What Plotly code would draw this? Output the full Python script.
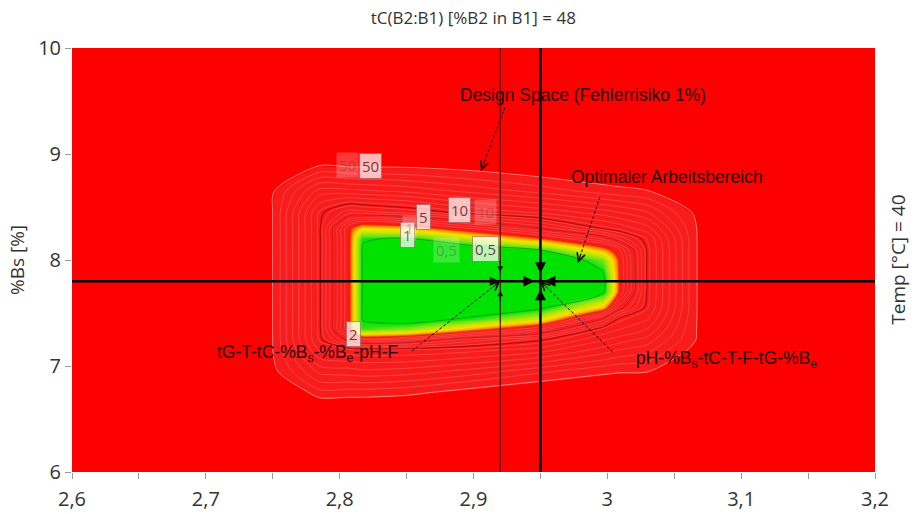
import numpy as np
import plotly.graph_objects as go

# ---------------- data ----------------
# x factor (horizontal axis) and %Bs grid on which the failure risk was evaluated
x_nodes = [2.70, 2.749, 2.785, 2.807, 2.817, 2.85, 2.90, 2.95, 2.997, 3.009, 3.030, 3.068, 3.10]
bs_nodes = [6.50, 6.75, 6.95, 7.15, 7.25, 7.35, 7.45, 7.55, 7.70, 7.85, 8.00,
            8.10, 8.20, 8.30, 8.45, 8.65, 8.90, 9.10]

# probability of failure [%]; one row per %Bs node, one column per x node
risk_pct = [
    [100, 100, 100, 100, 100, 100, 100, 100, 100, 100, 100, 100, 100],        # 6.50
    [100, 90, 42, 43, 43, 46, 58, 70, 80, 85, 90, 100, 100],                  # 6.75
    [100, 56, 24, 23, 22, 23, 28, 37, 46, 48, 49, 90, 100],                   # 6.95
    [100, 52, 13.4, 12, 11.7, 11.7, 13, 15.5, 23, 26, 29.5, 58, 100],         # 7.15
    [100, 52, 10.8, 4.5, 3.2, 3.6, 6.6, 9.6, 16.5, 18.6, 22.6, 52, 100],      # 7.25
    [100, 52, 10.5, 2.1, 0.58, 0.74, 1.6, 3.2, 11.7, 13.6, 17, 52, 100],      # 7.35
    [100, 52, 10.5, 2.1, 0.48, 0.35, 0.55, 1.05, 5.1, 10.4, 13.3, 52, 100],   # 7.45
    [100, 52, 10.5, 2.1, 0.48, 0.25, 0.3, 0.45, 1.55, 4.5, 11, 52, 100],      # 7.55
    [100, 52, 10.5, 2.1, 0.48, 0.2, 0.15, 0.2, 0.45, 2.1, 10.5, 52, 100],     # 7.70
    [100, 52, 10.5, 2.1, 0.48, 0.2, 0.12, 0.15, 0.45, 2.05, 10.5, 52, 100],   # 7.85
    [100, 52, 10.5, 2.1, 0.48, 0.22, 0.2, 0.25, 0.7, 2.1, 10.5, 52, 100],     # 8.00
    [100, 52, 10.5, 2.1, 0.48, 0.3, 0.35, 0.52, 1.55, 2.6, 10.5, 52, 100],    # 8.10
    [100, 52, 10.5, 2.1, 0.52, 0.47, 0.95, 1.8, 4.1, 6.3, 11.4, 52, 100],     # 8.20
    [100, 52, 10.5, 2.1, 1.3, 1.5, 2.8, 5.2, 10.5, 12, 15.7, 52, 100],        # 8.30
    [100, 52, 10.8, 6.5, 6.9, 8, 11.5, 14.5, 19, 21, 25.5, 55, 100],          # 8.45
    [100, 53, 19, 19.5, 20, 22, 27.5, 34, 43, 45, 49, 85, 100],               # 8.65
    [100, 100, 52, 55, 55, 55, 60, 70, 80, 85, 90, 100, 100],                 # 8.90
    [100, 100, 100, 100, 100, 100, 100, 100, 100, 100, 100, 100, 100],        # 9.10
]

# labelled iso-risk levels [%] and their printed labels
risk_levels = [0.5, 1, 2, 5, 10, 50]
risk_level_text = ["0,5", "1", "2", "5", "10", "50"]

# set point of the cross-section
x_design_space = 2.92
x_optimum = 2.95
bs_setpoint = 7.8

x_ticks = [2.6, 2.7, 2.8, 2.9, 3.0, 3.1, 3.2]
y_ticks = [6, 7, 8, 9, 10]

# ---------------- styling helpers ----------------
RED = "#fd0000"
log_risk = np.log10(np.array(risk_pct, dtype=float))


def pos(v):
    # colour-scale position of a log10 risk value on the range [-1, 2]
    return (v + 1.0) / 3.0


risk_colors = [
    [0.0, "#00e300"],
    [pos(-0.30), "#00e300"],
    [pos(-0.18), "#6ae41c"],
    [pos(-0.03), "#c8e600"],
    [pos(0.10), "#f6e200"],
    [pos(0.22), "#ff9800"],
    [pos(0.30), "#ff2200"],
    [pos(0.36), "#f81c1c"],
    [pos(1.69), "#f81c1c"],
    [pos(1.71), RED],
    [1.0, RED],
]

fig = go.Figure()

# coloured risk map
fig.add_trace(go.Heatmap(
    x=x_nodes, y=bs_nodes, z=log_risk, zsmooth="best",
    zmin=-1, zmax=2, colorscale=risk_colors, showscale=False, hoverinfo="skip",
))

# dense iso-risk lines in the red zone
fig.add_trace(go.Contour(
    x=x_nodes, y=bs_nodes, z=log_risk,
    contours=dict(coloring="none", start=0.42, end=1.66, size=0.09),
    line=dict(color="rgba(255,140,140,0.5)", width=0.7, smoothing=0.8),
    showscale=False, hoverinfo="skip",
))

# labelled levels
level_style = {
    0.5: ("rgba(0,120,0,0.55)", 1.0),
    1: ("rgba(170,200,0,0.0)", 0.0),
    2: ("rgba(190,40,0,0.35)", 0.8),
    5: ("rgba(150,0,0,0.45)", 1.1),
    10: ("rgba(140,0,0,0.55)", 1.3),
    50: ("rgba(255,170,170,0.7)", 1.0),
}
for lv in risk_levels:
    col, w = level_style[lv]
    if w == 0:
        continue
    L = float(np.log10(lv))
    fig.add_trace(go.Contour(
        x=x_nodes, y=bs_nodes, z=log_risk,
        contours=dict(coloring="none", start=L, end=L, size=1),
        line=dict(color=col, width=w, smoothing=0.8),
        showscale=False, hoverinfo="skip",
    ))

# ---------------- annotations ----------------
ann = []

# contour level labels (value text in a translucent box)
label_spots = {
    "50": [(2.8234, 8.887, True), (2.8055, 8.896, False)],
    "10": [(2.8892, 8.472, True), (2.9086, 8.453, False)],
    "5": [(2.8630, 8.406, True)],
    "1": [(2.8510, 8.236, True), (2.8525, 8.300, False)],
    "0,5": [(2.9086, 8.104, True), (2.8800, 8.094, False)],
    "2": [(2.8107, 7.300, True)],
}
for txt in risk_level_text:
    for (lx, ly, strong) in label_spots[txt]:
        ann.append(dict(
            x=lx, y=ly, xref="x", yref="y", text=txt, showarrow=False,
            font=dict(family="Open Sans", size=15,
                      color="rgba(110,45,45,0.95)" if strong else "rgba(120,40,40,0.35)"),
            bgcolor="rgba(255,255,255,0.72)" if strong else "rgba(255,255,255,0.22)",
            bordercolor="rgba(150,90,90,0.6)" if strong else "rgba(0,0,0,0)",
            borderwidth=1, borderpad=2,
        ))

# callouts: (text, text x, text y, tail x, tail y, head x, head y)
callouts = [
    ("Design Space (Fehlerrisiko 1%)", 2.982, 9.557, 2.9235, 9.443, 2.9056, 8.840),
    ("Optimaler Arbeitsbereich", 3.0446, 8.783, 2.9945, 8.594, 2.978, 7.972),
    ("tG-T-tC-%B<sub>s</sub>-%B<sub>e</sub>-pH-F", 2.7763, 7.118, 2.854, 7.142,
     x_design_space, bs_setpoint),
    ("pH-%B<sub>s</sub>-tC-T-F-tG-%B<sub>e</sub>", 3.0894, 7.060, 3.004, 7.132,
     x_optimum, bs_setpoint),
]
PX_X = 803 / 0.6   # pixels per x unit
PX_Y = 424 / 4.0   # pixels per %Bs unit
shapes = []
for (t, tx, ty, x0, y0, x1, y1) in callouts:
    ann.append(dict(x=tx, y=ty, xref="x", yref="y", text=t, showarrow=False,
                    font=dict(family="Liberation Sans", size=17.5, color="#2a0000")))
    shapes.append(dict(type="line", xref="x", yref="y", x0=x0, y0=y0, x1=x1, y1=y1,
                       line=dict(color="#200000", width=1, dash="3px,2px")))
    dx, dy = (x0 - x1) * PX_X, -(y0 - y1) * PX_Y
    n = (dx * dx + dy * dy) ** 0.5
    ann.append(dict(x=x1, y=y1, xref="x", yref="y", text="", showarrow=True,
                    ax=dx / n * 11, ay=dy / n * 11, arrowhead=5, arrowsize=1.6,
                    arrowwidth=1, arrowcolor="#200000", standoff=0))

# crosshair lines
shapes += [
    dict(type="line", xref="paper", yref="y", x0=0, x1=1, y0=bs_setpoint, y1=bs_setpoint,
         line=dict(color="#000000", width=2.5)),
    dict(type="line", xref="x", yref="paper", x0=x_optimum, x1=x_optimum, y0=0, y1=1,
         line=dict(color="#000000", width=2.5)),
    dict(type="line", xref="x", yref="paper", x0=x_design_space, x1=x_design_space, y0=0, y1=1,
         line=dict(color="rgba(70,0,0,0.9)", width=1.2)),
]

# arrow heads converging on the set points
for (ox, oy, so) in [(-20, 0, 6), (0, -20, 8), (0, 20, 8), (20, 0, 4)]:
    ann.append(dict(x=x_optimum, y=bs_setpoint, xref="x", yref="y", text="", showarrow=True,
                    ax=ox, ay=oy, arrowhead=2, arrowsize=1.1, arrowwidth=2.0,
                    arrowcolor="#000000", standoff=so))
for (ox, oy, w, so) in [(-18, 0, 1.6, 1), (0, -22, 1.0, 9), (0, 22, 1.0, 9)]:
    ann.append(dict(x=x_design_space, y=bs_setpoint, xref="x", yref="y", text="", showarrow=True,
                    ax=ox, ay=oy, arrowhead=2, arrowsize=1.2, arrowwidth=w,
                    arrowcolor="rgba(20,0,0,0.8)", standoff=so))

# condition held constant
ann.append(dict(x=1.047, y=0.50, xref="paper", yref="paper", text="Temp [°C] = 40",
                textangle=-90, showarrow=False,
                font=dict(family="Open Sans", size=19, color="#333333")))

fig.update_layout(
    width=919, height=514,
    margin=dict(l=72, r=44, t=48, b=42),
    paper_bgcolor="white", plot_bgcolor=RED,
    separators=",.",
    showlegend=False,
    title=dict(text="tC(B2:B1) [%B2 in B1] = 48", x=0.515, xanchor="center",
               y=1 - 18 / 514, yanchor="middle",
               font=dict(family="Open Sans", size=17, color="#333333")),
    annotations=ann,
    shapes=shapes,
)
fig.update_xaxes(range=[2.6, 3.2], tickvals=x_ticks, ticks="outside", ticklen=6,
                 tickcolor="#999999", showgrid=False, zeroline=False, showline=False,
                 automargin=False, ticklabelstandoff=3,
                 tickfont=dict(family="Open Sans", size=20, color="#333333"),
                 minor=dict(dtick=0.05, tick0=2.6, ticks="outside", ticklen=6, tickcolor="#999999"))
fig.update_yaxes(range=[6, 10], tickvals=y_ticks, ticks="outside", ticklen=6,
                 tickcolor="#999999", showgrid=False, zeroline=False, showline=False,
                 automargin=False,
                 tickfont=dict(family="Open Sans", size=20, color="#333333"),
                 title=dict(text="%Bs [%]", standoff=8,
                            font=dict(family="Open Sans", size=19, color="#333333")))

fig.write_html("out.html")
